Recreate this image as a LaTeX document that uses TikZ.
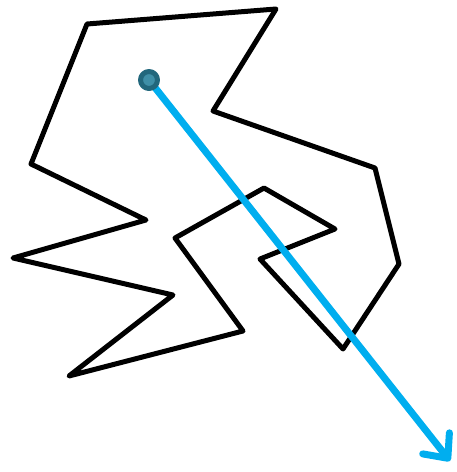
\documentclass[tikz,border=0pt]{standalone}
\usepackage{tikz}
\usetikzlibrary{arrows.meta}
\definecolor{raycyan}{HTML}{00AEEF}
\definecolor{dotring}{HTML}{22677C}
\definecolor{dotfill}{HTML}{3F8FA7}

\begin{document}
\begin{tikzpicture}[x=1pt, y=-1pt, line join=round]
  \useasboundingbox (0,0) rectangle (457,472);

  % Polygon
  \draw[line width=5pt] (87,24) -- (276,9) -- (213,111) -- (375,168) -- (399,264)
    -- (343,349) -- (260,259) -- (335,229) -- (264,188) -- (175,238) -- (243,331)
    -- (69,376) -- (173,295) -- (13,258) -- (146,220) -- (31,164) -- cycle;

  % Ray
  \coordinate (start) at (149,80);
  \coordinate (tip) at (450,461);
  \draw[raycyan, line width=7pt, line cap=round,
        -{Straight Barb[length=19pt, width=34pt, round]}] (start) -- (tip);

  % Start point
  \draw[dotring, fill=dotfill, line width=5pt] (start) circle (8.5pt);
\end{tikzpicture}
\end{document}
